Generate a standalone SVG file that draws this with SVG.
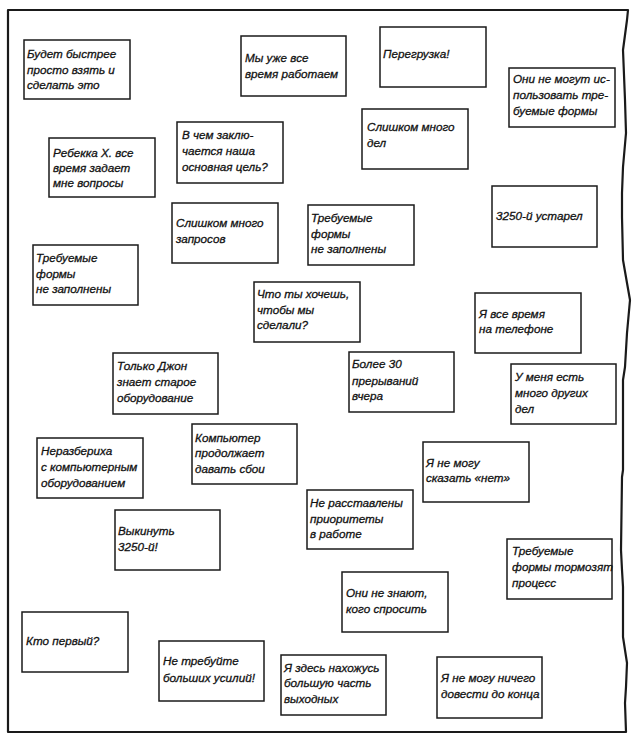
<svg xmlns="http://www.w3.org/2000/svg" width="638" height="752" viewBox="0 0 638 752">
<style>
.bx{fill:#fff;stroke:#1a1a1a;stroke-width:1.5}
.fr{fill:none;stroke:#1a1a1a;stroke-width:2.2;stroke-linejoin:round}
text{font-family:"Liberation Sans",Arial,sans-serif;font-style:italic;font-size:11.7px;fill:#111;stroke:#111;stroke-width:0.3}
</style>
<rect width="638" height="752" fill="#fff"/>
<g id="frame">
<path class="fr" d="M8,10 L628,10 L627,20 L623,50 L625,100 L626,133 L623,167 L622,193 L622,217 L623,260 L627,283 L630,300 L627,333 L625,367 L623,380 L623,470 L622,477 L621,550 L622,570 L623,587 L623,603 L623,637 L627,663 L626,687 L625,703 L626,732 L8,732 Z"/>
</g>
<g id="connectors"></g>
<g id="n1"><rect class="bx" x="24" y="40" width="106" height="59"/><text x="27" y="58">Будет быстрее</text><text x="27" y="74">просто взять и</text><text x="27" y="89">сделать это</text></g>
<g id="n2"><rect class="bx" x="241" y="36" width="105" height="60"/><text x="245" y="62">Мы уже все</text><text x="245" y="78">время работаем</text></g>
<g id="n3"><rect class="bx" x="380" y="27" width="106" height="60"/><text x="383" y="58">Перегрузка!</text></g>
<g id="n4"><rect class="bx" x="509" y="68" width="106" height="59"/><text x="513" y="83">Они не могут ис-</text><text x="513" y="99">пользовать тре-</text><text x="513" y="115">буемые формы</text></g>
<g id="n5"><rect class="bx" x="49" y="138" width="106" height="59"/><text x="53" y="157">Ребекка Х. все</text><text x="53" y="172">время задает</text><text x="53" y="187">мне вопросы</text></g>
<g id="n6"><rect class="bx" x="177" y="122" width="106" height="61"/><text x="182" y="139">В чем заклю-</text><text x="182" y="155">чается наша</text><text x="182" y="171">основная цель?</text></g>
<g id="n7"><rect class="bx" x="362" y="109" width="106" height="60"/><text x="367" y="131">Слишком много</text><text x="367" y="147">дел</text></g>
<g id="n8"><rect class="bx" x="492" y="186" width="105" height="61"/><text x="496" y="220">3250-й устарел</text></g>
<g id="n9"><rect class="bx" x="172" y="203" width="106" height="60"/><text x="176" y="227">Слишком много</text><text x="176" y="243">запросов</text></g>
<g id="n10"><rect class="bx" x="308" y="205" width="106" height="60"/><text x="311" y="222">Требуемые</text><text x="311" y="238">формы</text><text x="311" y="253">не заполнены</text></g>
<g id="n11"><rect class="bx" x="33" y="245" width="105" height="60"/><text x="36" y="262">Требуемые</text><text x="36" y="278">формы</text><text x="36" y="293">не заполнены</text></g>
<g id="n12"><rect class="bx" x="254" y="282" width="106" height="60"/><text x="257" y="298">Что ты хочешь,</text><text x="257" y="314">чтобы мы</text><text x="257" y="329">сделали?</text></g>
<g id="n13"><rect class="bx" x="475" y="293" width="106" height="60"/><text x="479" y="318">Я все время</text><text x="479" y="333">на телефоне</text></g>
<g id="n14"><rect class="bx" x="113" y="353" width="105" height="61"/><text x="117" y="370">Только Джон</text><text x="117" y="386">знает старое</text><text x="117" y="402">оборудование</text></g>
<g id="n15"><rect class="bx" x="349" y="352" width="105" height="60"/><text x="352" y="368">Более 30</text><text x="352" y="385">прерываний</text><text x="352" y="400">вчера</text></g>
<g id="n16"><rect class="bx" x="511" y="364" width="105" height="60"/><text x="515" y="381">У меня есть</text><text x="515" y="397">много других</text><text x="515" y="413">дел</text></g>
<g id="n17"><rect class="bx" x="192" y="424" width="105" height="60"/><text x="195" y="442">Компьютер</text><text x="195" y="457">продолжает</text><text x="195" y="473">давать сбои</text></g>
<g id="n18"><rect class="bx" x="37" y="438" width="106" height="60"/><text x="41" y="455">Неразбериха</text><text x="41" y="471">с компьютерным</text><text x="41" y="487">оборудованием</text></g>
<g id="n19"><rect class="bx" x="423" y="442" width="106" height="60"/><text x="426" y="467">Я не могу</text><text x="426" y="482">сказать «нет»</text></g>
<g id="n20"><rect class="bx" x="307" y="490" width="106" height="59"/><text x="310" y="507">Не расставлены</text><text x="310" y="523">приоритеты</text><text x="310" y="538">в работе</text></g>
<g id="n21"><rect class="bx" x="115" y="510" width="105" height="60"/><text x="118" y="535">Выкинуть</text><text x="118" y="551">3250-й!</text></g>
<g id="n22"><rect class="bx" x="507" y="539" width="105" height="60"/><text x="512" y="555">Требуемые</text><text x="512" y="571">формы тормозят</text><text x="512" y="587">процесс</text></g>
<g id="n23"><rect class="bx" x="342" y="572" width="106" height="60"/><text x="346" y="597">Они не знают,</text><text x="346" y="613">кого спросить</text></g>
<g id="n24"><rect class="bx" x="22" y="612" width="106" height="60"/><text x="26" y="645">Кто первый?</text></g>
<g id="n25"><rect class="bx" x="159" y="641" width="105" height="60"/><text x="163" y="665">Не требуйте</text><text x="163" y="682">больших усилий!</text></g>
<g id="n26"><rect class="bx" x="281" y="655" width="105" height="60"/><text x="284" y="672">Я здесь нахожусь</text><text x="284" y="687">большую часть</text><text x="284" y="703">выходных</text></g>
<g id="n27"><rect class="bx" x="437" y="657" width="105" height="61"/><text x="441" y="682">Я не могу ничего</text><text x="441" y="698">довести до конца</text></g>
</svg>
